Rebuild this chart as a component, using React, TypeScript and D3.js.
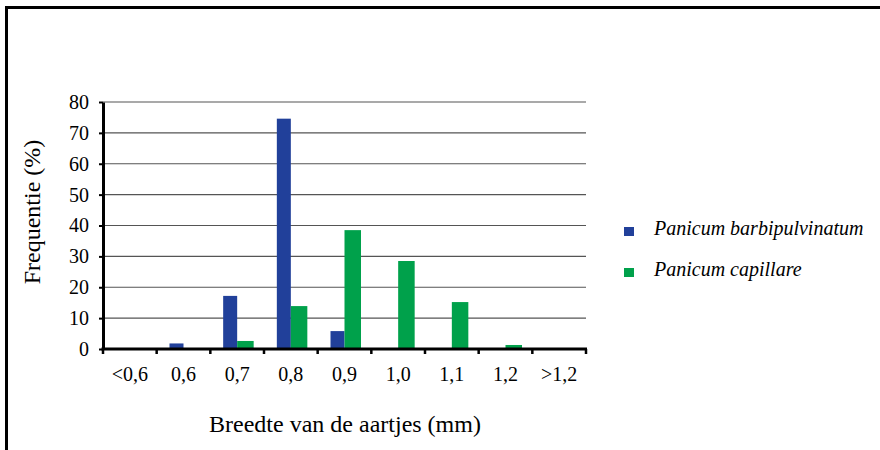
import React, { useEffect, useRef } from 'react';
import * as d3 from 'd3';

const categories = ['<0,6', '0,6', '0,7', '0,8', '0,9', '1,0', '1,1', '1,2', '>1,2'];
const barbipulvinatum = [0, 1.8, 17.2, 74.6, 5.8, 0, 0, 0, 0];
const capillare = [0, 0, 2.6, 13.9, 38.5, 28.5, 15.2, 1.3, 0];
const yTicks = [0, 10, 20, 30, 40, 50, 60, 70, 80];
const seriesNames = ['Panicum barbipulvinatum', 'Panicum capillare'];
const seriesColors = ['#21409a', '#00a14b'];

const App: React.FC = () => {
  const svgRef = useRef<SVGSVGElement>(null);

  useEffect(() => {
    if (!svgRef.current) return;
    const W = 880;
    const H = 450;
    const font = "'Liberation Serif', 'DejaVu Serif', serif";

    const root = d3.select(svgRef.current);
    root.selectAll('*').remove();
    root.attr('width', W).attr('height', H).style('font-family', font);

    // frame (only left and top edges are visible)
    root.append('path')
      .attr('d', `M6.5,${H + 5}V7.5H${W + 5}`)
      .attr('fill', 'none')
      .attr('stroke', '#000')
      .attr('stroke-width', 3);

    const left = 103;
    const right = 586;
    const top = 102;
    const bottom = 349;

    const x = d3.scaleBand().domain(categories).range([left, right]);
    const y = d3.scaleLinear().domain([0, 80]).range([bottom, top]);

    // gridlines
    root.append('g')
      .selectAll('line')
      .data(yTicks.filter(t => t > 0))
      .enter()
      .append('line')
      .attr('x1', left)
      .attr('x2', right)
      .attr('y1', d => y(d))
      .attr('y2', d => y(d))
      .attr('stroke', '#555')
      .attr('stroke-width', 1.2);

    const bw = x.bandwidth();
    const blueW = 14;
    const greenW = 16.5;

    root.append('g')
      .selectAll('rect')
      .data(barbipulvinatum)
      .enter()
      .append('rect')
      .attr('x', (d, i) => x(categories[i])! + bw / 2 - blueW)
      .attr('width', blueW)
      .attr('y', d => y(d))
      .attr('height', d => bottom - y(d))
      .attr('fill', seriesColors[0]);

    root.append('g')
      .selectAll('rect')
      .data(capillare)
      .enter()
      .append('rect')
      .attr('x', (d, i) => x(categories[i])! + bw / 2)
      .attr('width', greenW)
      .attr('y', d => y(d))
      .attr('height', d => bottom - y(d))
      .attr('fill', seriesColors[1]);

    // y axis
    const yAxis = root.append('g')
      .attr('transform', `translate(${left},0)`)
      .call(d3.axisLeft(y).tickValues(yTicks).tickSize(4).tickPadding(10).tickSizeOuter(0));
    yAxis.attr('font-family', null).attr('font-size', null);
    yAxis.select('.domain').attr('stroke-width', 3);
    yAxis.selectAll('.tick line').attr('stroke-width', 2);
    yAxis.selectAll('.tick text')
      .style('font-family', font)
      .style('font-size', '20px')
      .attr('fill', '#000');

    // x axis
    const ticks = categories.map(c => x(c)!).concat([right]);
    const xAxis = root.append('g');
    xAxis.append('line')
      .attr('x1', left - 1.5)
      .attr('x2', right + 1)
      .attr('y1', bottom)
      .attr('y2', bottom)
      .attr('stroke', '#000')
      .attr('stroke-width', 3);
    xAxis.selectAll('.xt')
      .data(ticks)
      .enter()
      .append('line')
      .attr('class', 'xt')
      .attr('x1', d => d)
      .attr('x2', d => d)
      .attr('y1', bottom)
      .attr('y2', bottom + 5)
      .attr('stroke', '#000')
      .attr('stroke-width', 2.5);
    xAxis.selectAll('text')
      .data(categories)
      .enter()
      .append('text')
      .attr('x', d => x(d)! + bw / 2)
      .attr('y', 381)
      .attr('text-anchor', 'middle')
      .style('font-family', font)
      .style('font-size', '20px')
      .text(d => d);

    // axis titles
    root.append('text')
      .attr('transform', 'translate(40,212) rotate(-90)')
      .attr('text-anchor', 'middle')
      .style('font-family', font)
      .style('font-size', '24px')
      .text('Frequentie (%)');

    root.append('text')
      .attr('x', 345)
      .attr('y', 432)
      .attr('text-anchor', 'middle')
      .style('font-family', font)
      .style('font-size', '24px')
      .text('Breedte van de aartjes (mm)');

    // legend
    const legend = root.append('g');
    seriesNames.forEach((name, i) => {
      const ly = 227 + i * 41;
      legend.append('rect')
        .attr('x', 624)
        .attr('y', ly)
        .attr('width', 10)
        .attr('height', 9)
        .attr('fill', seriesColors[i]);
      legend.append('text')
        .attr('x', 654)
        .attr('y', ly + 8)
        .style('font-family', font)
        .style('font-style', 'italic')
        .style('font-size', '20px')
        .text(name);
    });
  }, []);

  return <svg ref={svgRef} style={{ position: 'absolute', left: 0, top: 0 }} />;
};

export default App;
